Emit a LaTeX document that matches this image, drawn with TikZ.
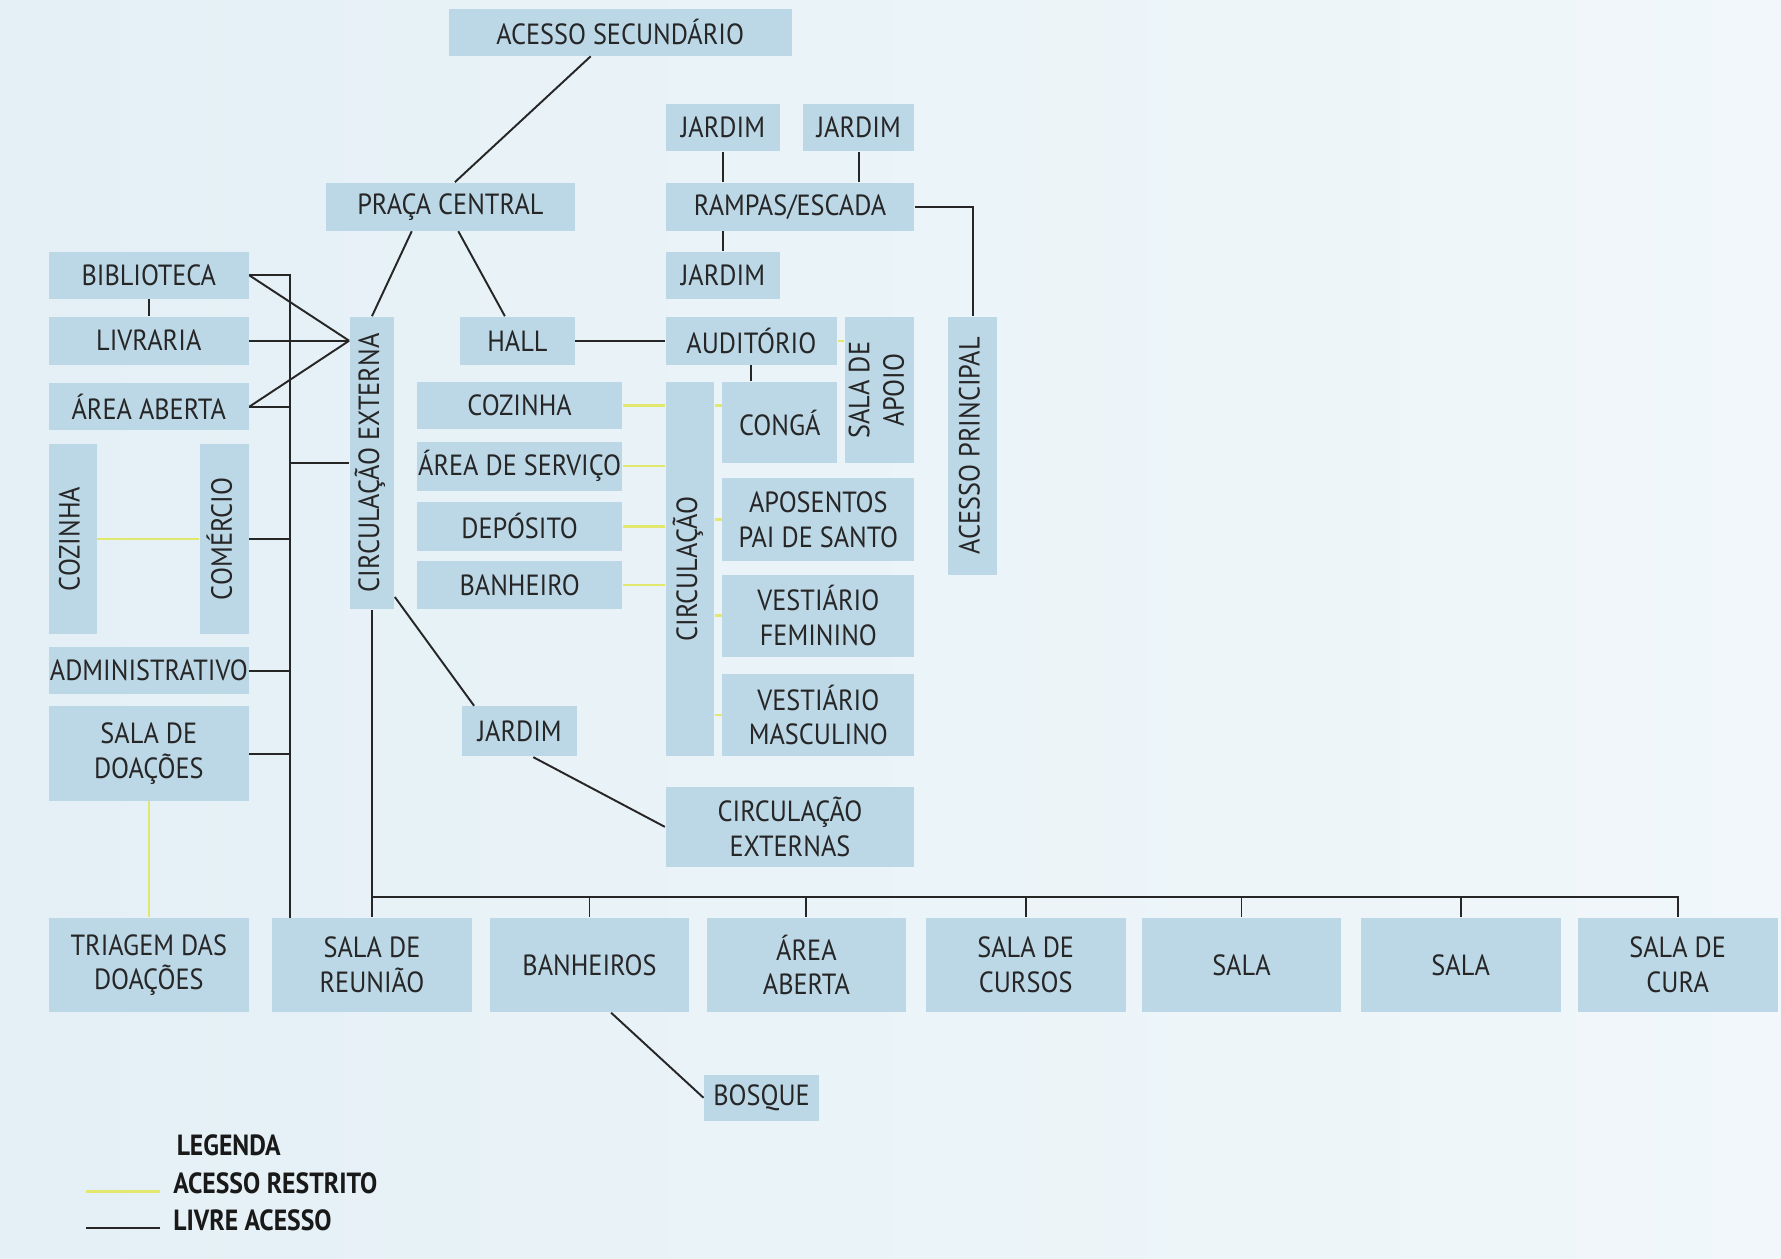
\documentclass[tikz,border=0pt]{standalone}
\usepackage{fontspec}
\setmainfont[FakeStretch=0.9]{PT Sans}
\newfontfamily\legfont[FakeStretch=0.88]{PT Sans}
\usetikzlibrary{calc}
\definecolor{bgleft}{RGB}{228,240,246}
\definecolor{bgright}{RGB}{241,247,250}
\definecolor{roomblue}{RGB}{188,215,230}
\definecolor{labelgray}{RGB}{38,38,38}
\definecolor{restrictyellow}{RGB}{226,232,110}

\newcommand{\vlabel}[1]{\rotatebox{90}{\begin{tabular}{@{}c@{}}#1\end{tabular}}}

\begin{document}
\begin{tikzpicture}[
    x=0.011358cm, y=-0.011358cm,
    sz/.style 2 args={minimum width=#1*0.011358cm, minimum height=#2*0.011358cm},
    room/.style={rectangle, fill=roomblue, inner sep=0pt, align=center, text=labelgray, font=\fontsize{8.3}{9.8}\selectfont},
    legtext/.style={anchor=west, inner sep=0pt, text=black!90, font={\legfont\bfseries\fontsize{8.3}{9}\selectfont}},
    livre/.style={draw=black!85, line width=0.55pt},
    restrito/.style={draw=restrictyellow, line width=0.65pt}
]
    \shade[left color=bgleft, right color=bgright] (0,0) rectangle (1568,1108);
    \useasboundingbox (0,0) rectangle (1568,1108);

    % Acessos e praca
    \node[room, sz={302}{41}] (secacc) at (546,28.5) {ACESSO SECUNDÁRIO};
    \node[room, sz={101}{41}] (jardimA) at (636.5,112.5) {JARDIM};
    \node[room, sz={98}{41}] (jardimB) at (756,112.5) {JARDIM};
    \node[room, sz={219}{42}] (praca) at (396.5,182) {PRAÇA CENTRAL};
    \node[room, sz={219}{42}] (rampas) at (695.5,182) {RAMPAS/ESCADA};
    \node[room, sz={101}{41}] (jardimC) at (636.5,242.5) {JARDIM};

    % Ala esquerda
    \node[room, sz={176}{41}] (biblio) at (131,242.5) {BIBLIOTECA};
    \node[room, sz={176}{42}] (livraria) at (131,300) {LIVRARIA};
    \node[room, sz={176}{42}] (areaab) at (131,358) {ÁREA ABERTA};
    \node[room, sz={42}{167}] (cozinhaA) at (64,474.5) {\vlabel{COZINHA}};
    \node[room, sz={43}{167}] (comercio) at (197.5,474.5) {\vlabel{COMÉRCIO}};
    \node[room, sz={176}{41}] (admin) at (131,590.5) {ADMINISTRATIVO};
    \node[room, sz={176}{83}] (doacoes) at (131,663.5) {SALA DE\\DOAÇÕES};

    % Bloco central
    \node[room, sz={39}{257}] (circext) at (327.5,407.5) {\vlabel{CIRCULAÇÃO EXTERNA}};
    \node[room, sz={101}{42}] (hall) at (455.5,300) {HALL};
    \node[room, sz={151}{42}] (audit) at (661.5,300) {AUDITÓRIO};
    \node[room, sz={61}{129}] (apoio) at (774.5,343.5) {\vlabel{SALA DE\\APOIO}};
    \node[room, sz={43}{227}] (acprin) at (856.5,392.5) {\vlabel{ACESSO PRINCIPAL}};
    \node[room, sz={181}{42}] (cozinhaB) at (457.5,357) {COZINHA};
    \node[room, sz={181}{43}] (servico) at (457.5,410.5) {ÁREA DE SERVIÇO};
    \node[room, sz={181}{43}] (deposito) at (457.5,463.5) {DEPÓSITO};
    \node[room, sz={181}{42}] (banheiro) at (457.5,515) {BANHEIRO};
    \node[room, sz={43}{330}] (circ) at (607.5,501) {\vlabel{CIRCULAÇÃO}};
    \node[room, sz={101}{72}] (conga) at (686.5,372) {CONGÁ};
    \node[room, sz={169}{73}] (aposentos) at (720.5,457.5) {APOSENTOS\\PAI DE SANTO};
    \node[room, sz={169}{72}] (vestfem) at (720.5,542) {VESTIÁRIO\\FEMININO};
    \node[room, sz={169}{73}] (vestmasc) at (720.5,629.5) {VESTIÁRIO\\MASCULINO};
    \node[room, sz={101}{44}] (jardimD) at (457.5,644) {JARDIM};
    \node[room, sz={219}{70}] (circexts) at (695.5,728) {CIRCULAÇÃO\\EXTERNAS};

    % Linha inferior
    \node[room, sz={176}{83}] (triagem) at (131,849.5) {TRIAGEM DAS\\DOAÇÕES};
    \node[room, sz={176}{83}] (reuniao) at (327.5,849.5) {SALA DE\\REUNIÃO};
    \node[room, sz={176}{83}] (banheiros) at (519,849.5) {BANHEIROS};
    \node[room, sz={176}{83}] (areaabB) at (710,849.5) {ÁREA\\ABERTA};
    \node[room, sz={176}{83}] (cursos) at (903,849.5) {SALA DE\\CURSOS};
    \node[room, sz={176}{83}] (salaA) at (1093,849.5) {SALA};
    \node[room, sz={176}{83}] (salaB) at (1286,849.5) {SALA};
    \node[room, sz={176}{83}] (cura) at (1477,849.5) {SALA DE\\CURA};
    \node[room, sz={101}{41}] (bosque) at (670.5,966.5) {BOSQUE};

    % Ligacoes superiores
    \draw[livre] ($(secacc.south)+(-26,0)$) -- ($(praca.north)+(4,0)$);
    \draw[livre] ($(praca.south)+(-34,0)$) -- (circext.north);
    \draw[livre] ($(praca.south)+(7,0)$) -- ($(hall.north)+(-11,0)$);
    \draw[livre] (jardimA.south) -- (jardimA.south |- rampas.north);
    \draw[livre] (jardimB.south) -- (jardimB.south |- rampas.north);
    \draw[livre] (jardimC.north |- rampas.south) -- (jardimC.north);
    \draw[livre] (rampas.east) -| (acprin.north);
    \draw[livre] (hall.east) -- (audit.west);
    \draw[livre] (audit.south) -- (audit.south |- conga.north);
    \draw[restrito] (audit.east) -- (audit.east -| apoio.west);

    % Ligacoes da ala esquerda
    \coordinate (busx) at (255,808);
    \coordinate (fan) at (circext.west |- livraria.east);
    \draw[livre] (biblio.east) -| (busx);
    \foreach \r in {areaab, comercio, admin, doacoes}
        \draw[livre] (\r.east) -- (\r.east -| busx);
    \draw[livre] (busx |- circext.west) -- (circext.west);
    \foreach \r in {biblio, livraria, areaab}
        \draw[livre] (\r.east) -- (fan);
    \draw[livre] (biblio.south) -- (livraria.north);
    \draw[restrito] (cozinhaA.east) -- (comercio.west);
    \draw[restrito] (doacoes.south) -- (triagem.north);

    % Ligacoes do bloco central
    \draw[livre] ($(circext.south east)+(0,-11)$) -- ($(jardimD.north west)+(11,0)$);
    \draw[livre] ($(jardimD.south)+(12,0)$) -- (circexts.west);
    \foreach \r in {cozinhaB, servico, deposito, banheiro}
        \draw[restrito] (\r.east) -- (\r.east -| circ.west);
    \draw[restrito] (circ.east |- cozinhaB.east) -- (conga.west |- cozinhaB.east);
    \foreach \r in {aposentos, vestfem, vestmasc}
        \draw[restrito] (circ.east |- \r.west) -- (\r.west);

    % Barramento inferior
    \coordinate (busL) at (327.5,790);
    \draw[livre] (circext.south) -- (reuniao.north);
    \draw[livre] (busL) -| (cura.north);
    \foreach \r in {banheiros, areaabB, cursos, salaA, salaB}
        \draw[livre] (\r.north) -- (\r.north |- busL);
    \draw[livre] ($(banheiros.south)+(19,0)$) -- (bosque.west);

    % Legenda
    \node[legtext] (lgtitle) at (155,1008) {LEGENDA};
    \node[legtext] (lgrestr) at (152,1042) {ACESSO RESTRITO};
    \node[legtext] (lglivre) at (152,1074) {LIVRE ACESSO};
    \draw[restrito] ($(lgrestr.west)+(-76,7)$) -- ($(lgrestr.west)+(-11,7)$);
    \draw[livre] ($(lglivre.west)+(-76,7)$) -- ($(lglivre.west)+(-11,7)$);
\end{tikzpicture}
\end{document}
